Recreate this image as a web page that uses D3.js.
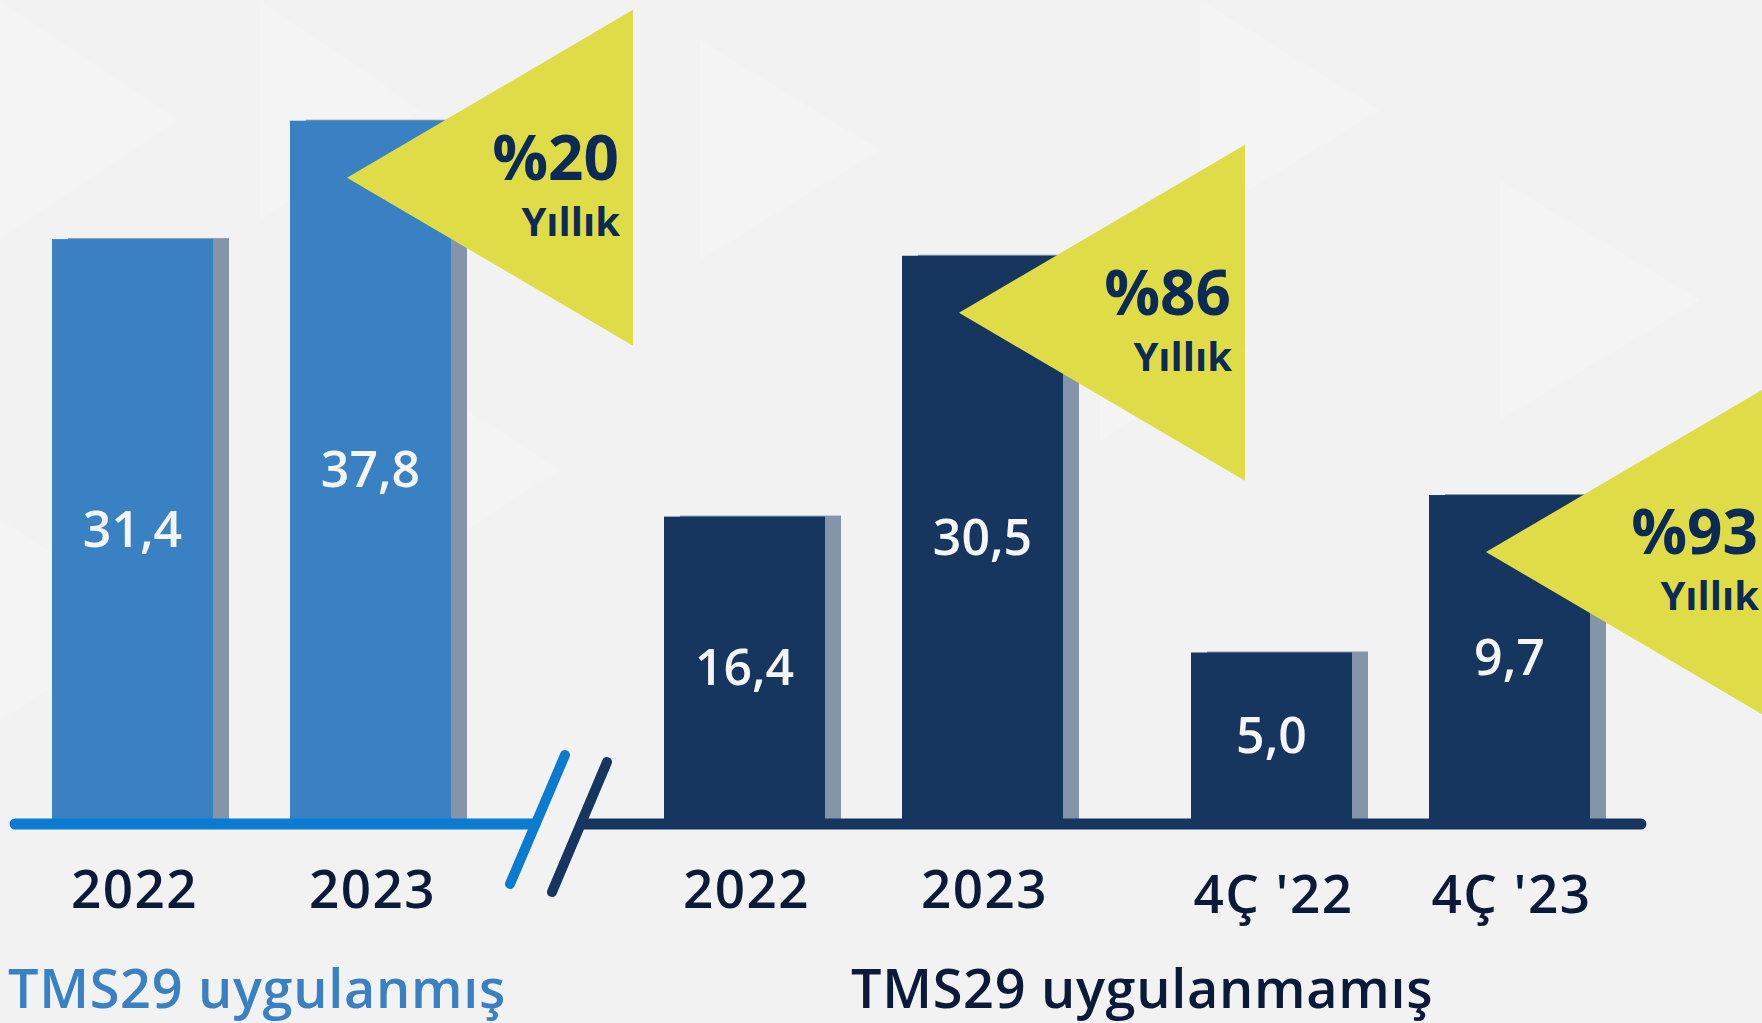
<!DOCTYPE html>
<html>
<head>
<meta charset="utf-8">
<script src="https://cdn.jsdelivr.net/npm/d3@7"></script>
<style>
  html, body { margin: 0; padding: 0; background: #f2f2f2; }
  svg { display: block; }
</style>
</head>
<body>
<svg id="chart" width="1762" height="1023"></svg>
<script>
// ---- data ----
const appliedCategories = ["2022", "2023"];
const appliedValues = [31.4, 37.8];
const annualCategories = ["2022", "2023"];
const annualValues = [16.4, 30.5];
const quarterCategories = ["4Ç '22", "4Ç '23"];
const quarterValues = [5.0, 9.7];
const growthLabels = ["%20", "%86", "%93"];
const growthSubLabel = "Yıllık";
const groupTitles = ["TMS29 uygulanmış", "TMS29 uygulanmamış"];

// ---- styles ----
const W = 1762, H = 1023;
const baseY = 820;
const lightBlue = "#3a81c4", axisBlue = "#0a7bd0", navy = "#163660";
const shadowCol = "#8595a9", yellow = "#dfdc48", textDark = "#0b1a38", triText = "#0b2a56";
const font = "'Open Sans', 'Noto Sans', sans-serif";

const svg = d3.select("#chart");
svg.append("rect").attr("width", W).attr("height", H).attr("fill", "#f2f2f2");

// faint background texture
const bgTris = [
  [[0,0],[180,120],[0,240]], [[260,0],[420,110],[260,220]], [[700,40],[880,150],[700,260]],
  [[1200,0],[1380,110],[1200,220]], [[1500,180],[1700,300],[1500,420]], [[0,520],[160,620],[0,720]],
  [[420,380],[560,470],[420,560]], [[1100,260],[1250,350],[1100,440]]
];
svg.append("g").selectAll("path").data(bgTris).join("path")
  .attr("d", d => d3.line()(d) + "Z").attr("fill", "#f5f5f5").attr("opacity", 0.6);

const fmt = d3.formatLocale({decimal: ",", thousands: ".", grouping: [3], currency: ["", ""]}).format(".1f");

// scales
const pIn = (238 - 161) / 238;
const xApplied = d3.scaleBand().domain(appliedCategories).range([52, 451]).paddingInner(pIn).paddingOuter(0);
const xAnnual = d3.scaleBand().domain(annualCategories).range([664, 1063]).paddingInner(pIn).paddingOuter(0);
const xQuarter = d3.scaleBand().domain(quarterCategories).range([1191, 1590]).paddingInner(pIn).paddingOuter(0);
const yAnnual = d3.scaleLinear().domain([0, 40]).range([baseY, baseY - 40 * 18.5]);
const yQuarter = d3.scaleLinear().domain([0, 10]).range([baseY, baseY - 10 * 33.5]);

const groups = [
  {x: xApplied, y: yAnnual, cats: appliedCategories, vals: appliedValues, color: lightBlue, labelY: 908, growth: growthLabels[0]},
  {x: xAnnual, y: yAnnual, cats: annualCategories, vals: annualValues, color: navy, labelY: 908, growth: growthLabels[1]},
  {x: xQuarter, y: yQuarter, cats: quarterCategories, vals: quarterValues, color: navy, labelY: 913, growth: growthLabels[2]}
];

const gBars = svg.append("g");
const gTri = svg.append("g");

groups.forEach(g => {
  const data = g.cats.map((c, i) => ({c, v: g.vals[i]}));
  const bw = g.x.bandwidth();
  // shadows
  gBars.append("g").selectAll("rect").data(data).join("rect")
    .attr("x", d => g.x(d.c) + 16).attr("y", d => g.y(d.v) - 1)
    .attr("width", bw).attr("height", d => baseY - g.y(d.v) + 1)
    .attr("fill", shadowCol);
  // bars
  gBars.append("g").selectAll("rect").data(data).join("rect")
    .attr("x", d => g.x(d.c)).attr("y", d => g.y(d.v))
    .attr("width", bw).attr("height", d => baseY - g.y(d.v))
    .attr("fill", g.color);
  // value labels
  gBars.append("g").selectAll("text").data(data).join("text")
    .attr("x", d => g.x(d.c) + bw / 2)
    .attr("y", d => (g.y(d.v) + baseY) / 2 + 17)
    .attr("text-anchor", "middle")
    .attr("font-family", font).attr("font-weight", 600).attr("font-size", 50)
    .attr("fill", "#f5f5f5")
    .text(d => fmt(d.v));
  // category labels
  svg.append("g").selectAll("text").data(data).join("text")
    .attr("x", d => g.x(d.c) + bw / 2 + 2)
    .attr("y", g.labelY)
    .attr("text-anchor", "middle")
    .attr("font-family", font).attr("font-weight", 600).attr("font-size", 53)
    .attr("letter-spacing", 1.5)
    .attr("fill", textDark)
    .text(d => d.c);
  // growth triangle on last bar
  const last = data[data.length - 1];
  const ax = g.x(last.c) + 57, ay = g.y(last.v) + 57;
  const tri = [[ax, ay], [ax + 286, ay - 168], [ax + 286, ay + 168]];
  gTri.append("path").attr("d", d3.line()(tri) + "Z").attr("fill", yellow);
  gTri.append("text").attr("x", ax + 272).attr("y", ay + 2)
    .attr("text-anchor", "end").attr("font-family", font).attr("font-weight", 700)
    .attr("font-size", 62).attr("fill", triText).text(g.growth);
  gTri.append("text").attr("x", ax + 273).attr("y", ay + 58)
    .attr("text-anchor", "end").attr("font-family", font).attr("font-weight", 700)
    .attr("font-size", 40).attr("fill", triText).text(growthSubLabel);
});

// axis lines with break
const axisY = 824;
svg.append("line").attr("x1", 15).attr("x2", 535).attr("y1", axisY).attr("y2", axisY)
  .attr("stroke", axisBlue).attr("stroke-width", 11).attr("stroke-linecap", "round");
svg.append("line").attr("x1", 582).attr("x2", 1641).attr("y1", axisY).attr("y2", axisY)
  .attr("stroke", navy).attr("stroke-width", 11).attr("stroke-linecap", "round");
svg.append("line").attr("x1", 565).attr("y1", 755).attr("x2", 510).attr("y2", 884)
  .attr("stroke", axisBlue).attr("stroke-width", 10).attr("stroke-linecap", "round");
svg.append("line").attr("x1", 607).attr("y1", 762).attr("x2", 552).attr("y2", 892)
  .attr("stroke", navy).attr("stroke-width", 10).attr("stroke-linecap", "round");

// group titles
svg.append("text").attr("x", 8).attr("y", 1008)
  .attr("font-family", font).attr("font-weight", 600).attr("font-size", 54)
  .attr("letter-spacing", 0.7)
  .attr("fill", lightBlue).text(groupTitles[0]);
svg.append("text").attr("x", 851).attr("y", 1008)
  .attr("font-family", font).attr("font-weight", 600).attr("font-size", 54)
  .attr("letter-spacing", 0.7)
  .attr("fill", textDark).text(groupTitles[1]);
</script>
</body>
</html>
